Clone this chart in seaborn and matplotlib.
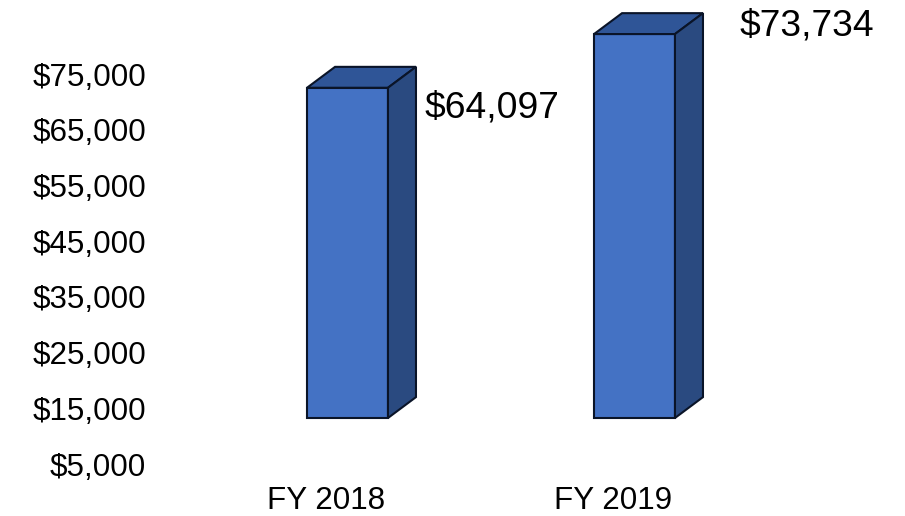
import matplotlib
matplotlib.use("Agg")
import matplotlib.pyplot as plt
import matplotlib.patches as mpatches
import pandas as pd
import seaborn as sns

categories = ["FY 2018", "FY 2019"]
values = [64097, 73734]
value_labels = ["$64,097", "$73,734"]
y_ticks = [5000, 15000, 25000, 35000, 45000, 55000, 65000, 75000]
y_tick_labels = ["$5,000", "$15,000", "$25,000", "$35,000", "$45,000", "$55,000", "$65,000", "$75,000"]

sns.set_style("white")
plt.rcParams["font.family"] = ["Liberation Sans", "DejaVu Sans"]

FRONT = "#4472C4"
TOP = "#2F5597"
SIDE = "#2A4A80"
EDGE = "#0A1428"

# the tick labels in the source sit lower than the bars' true scale, bars start near $5,000
LABEL_SHIFT = 8436
BASE = 4820

df = pd.DataFrame({"year": categories, "value": values})

fig = plt.figure(figsize=(9.05, 5.16), dpi=100)
ax = fig.add_axes([204 / 905, 1 - 464 / 516, 574 / 905, 390 / 516])
sns.barplot(data=df, x="year", y="value", color=FRONT, width=0.282, saturation=1,
            edgecolor=EDGE, linewidth=1.5, ax=ax, zorder=3)
ax.set_xlim(-0.5, 1.5)
ax.set_ylim(y_ticks[0] - LABEL_SHIFT, y_ticks[-1] - LABEL_SHIFT)
ax.set_xlabel("")
ax.set_ylabel("")
ax.set_yticks([t - LABEL_SHIFT for t in y_ticks])
ax.set_yticklabels(y_tick_labels, fontsize=22.6, color="black")
ax.set_xticks([])
ax.tick_params(axis="y", length=0, pad=41.8)
sns.despine(ax=ax, left=True, bottom=True)

for bar in ax.patches:
    top = bar.get_y() + bar.get_height()
    bar.set_y(BASE)
    bar.set_height(top - BASE)
    bar.set_clip_on(False)

# 3d faces, offset from each bar
dx = 0.0976
dy = 3750
for bar in list(ax.patches):
    x0 = bar.get_x()
    x1 = x0 + bar.get_width()
    y0 = bar.get_y()
    y1 = y0 + bar.get_height()
    ax.add_patch(mpatches.Polygon([(x0, y1), (x0 + dx, y1 + dy), (x1 + dx, y1 + dy), (x1, y1)],
                                  facecolor=TOP, edgecolor=EDGE, lw=1.5, clip_on=False, zorder=3))
    ax.add_patch(mpatches.Polygon([(x1, y0), (x1 + dx, y0 + dy), (x1 + dx, y1 + dy), (x1, y1)],
                                  facecolor=SIDE, edgecolor=EDGE, lw=1.5, clip_on=False, zorder=3))

trans = ax.get_xaxis_transform()
for i, name in enumerate(categories):
    ax.text(i - 0.073, -0.095, name, transform=trans, ha="center", va="center", fontsize=22.6, color="black")

ax.annotate(value_labels[0], (0, values[0]), xytext=(492, 516 - 107.5), xycoords="data",
            textcoords="figure pixels", ha="center", va="center", fontsize=26.8, color="black",
            annotation_clip=False)
ax.annotate(value_labels[1], (1, values[1]), xytext=(806.5, 516 - 26.5), xycoords="data",
            textcoords="figure pixels", ha="center", va="center", fontsize=26.8, color="black",
            annotation_clip=False)

fig.savefig("out.png", dpi=100, facecolor="white")
